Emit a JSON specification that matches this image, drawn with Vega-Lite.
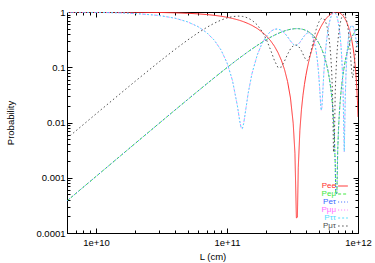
{
"$schema":"https://vega.github.io/schema/vega-lite/v6.json",
"width":291,"height":221,
"autosize":{"type":"none"},
"padding":{"left":67,"top":12,"right":17,"bottom":30},
"background":"#ffffff",
"config":{"font":"Liberation Sans","view":{"stroke":"#000000","strokeWidth":1},
"axis":{"grid":false,"domainColor":"#000000","tickColor":"#000000","labelColor":"#000000","labelFontSize":9.5,"titleFontSize":9.5,"titleFontWeight":"normal","titleColor":"#000000","labelFont":"Liberation Sans","titleFont":"Liberation Sans","tickWidth":1,"domainWidth":1,"labelOverlap":false,"labelFlush":false},
"legend":{"labelFont":"Liberation Sans"}},
"data":{"values":[
{"L":6e9,"Pee":0.9992,"Peμ":0.000381,"Peτ":0.000381,"Pμμ":0.9945,"Pττ":0.9945,"Pμτ":0.005174},
{"L":1e10,"Pee":0.9979,"Peμ":0.001057,"Peτ":0.001057,"Pμμ":0.9846,"Pττ":0.9846,"Pμτ":0.01432},
{"L":1.5e10,"Pee":0.9953,"Peμ":0.002377,"Peτ":0.002377,"Pμμ":0.9656,"Pττ":0.9656,"Pμτ":0.03198},
{"L":2e10,"Pee":0.9916,"Peμ":0.004221,"Peτ":0.004221,"Pμμ":0.9395,"Pττ":0.9395,"Pμτ":0.05627},
{"L":3e10,"Pee":0.9811,"Peμ":0.00946,"Peτ":0.00946,"Pμμ":0.8676,"Pττ":0.8676,"Pμτ":0.1229},
{"L":4e10,"Pee":0.9665,"Peμ":0.01674,"Peτ":0.01674,"Pμμ":0.7736,"Pττ":0.7736,"Pμτ":0.2097},
{"L":5e10,"Pee":0.948,"Peμ":0.02599,"Peτ":0.02599,"Pμμ":0.6634,"Pττ":0.6634,"Pμτ":0.3106},
{"L":6e10,"Pee":0.9257,"Peμ":0.03713,"Peτ":0.03713,"Pμμ":0.5442,"Pττ":0.5442,"Pμτ":0.4187},
{"L":7e10,"Pee":0.8999,"Peμ":0.05008,"Peτ":0.05008,"Pμμ":0.4233,"Pττ":0.4233,"Pμτ":0.5267},
{"L":8e10,"Pee":0.8706,"Peμ":0.06471,"Peτ":0.06471,"Pμμ":0.308,"Pττ":0.308,"Pμτ":0.6273},
{"L":9e10,"Pee":0.8382,"Peμ":0.08092,"Peτ":0.08092,"Pμμ":0.2052,"Pττ":0.2052,"Pμτ":0.7139},
{"L":1e11,"Pee":0.8029,"Peμ":0.09855,"Peτ":0.09855,"Pμμ":0.1204,"Pττ":0.1204,"Pμτ":0.7811},
{"L":1.1e11,"Pee":0.7651,"Peμ":0.1175,"Peτ":0.1175,"Pμμ":0.0578,"Pττ":0.0578,"Pμτ":0.8247},
{"L":1.2e11,"Pee":0.725,"Peμ":0.1375,"Peτ":0.1375,"Pμμ":0.02,"Pττ":0.02,"Pμτ":0.8425},
{"L":1.25e11,"Pee":0.7042,"Peμ":0.1479,"Peτ":0.1479,"Pμμ":0.01066,"Pττ":0.01066,"Pμτ":0.8415},
{"L":1.28e11,"Pee":0.6916,"Peμ":0.1542,"Peτ":0.1542,"Pμμ":0.008096,"Pττ":0.008096,"Pμτ":0.8377},
{"L":1.309e11,"Pee":0.6792,"Peμ":0.1604,"Peτ":0.1604,"Pμμ":0.00773,"Pττ":0.00773,"Pμτ":0.8319},
{"L":1.34e11,"Pee":0.6658,"Peμ":0.1671,"Peτ":0.1671,"Pμμ":0.009596,"Pττ":0.009596,"Pμτ":0.8233},
{"L":1.37e11,"Pee":0.6527,"Peμ":0.1737,"Peτ":0.1737,"Pμμ":0.01355,"Pττ":0.01355,"Pμτ":0.8128},
{"L":1.45e11,"Pee":0.6173,"Peμ":0.1914,"Peτ":0.1914,"Pμμ":0.03374,"Pττ":0.03374,"Pμτ":0.7749},
{"L":1.55e11,"Pee":0.5721,"Peμ":0.2139,"Peτ":0.2139,"Pμμ":0.07636,"Pττ":0.07636,"Pμτ":0.7097},
{"L":1.7e11,"Pee":0.5034,"Peμ":0.2483,"Peτ":0.2483,"Pμμ":0.1661,"Pττ":0.1661,"Pμτ":0.5856},
{"L":1.85e11,"Pee":0.4345,"Peμ":0.2827,"Peτ":0.2827,"Pμμ":0.2704,"Pττ":0.2704,"Pμτ":0.4469},
{"L":2e11,"Pee":0.367,"Peμ":0.3165,"Peτ":0.3165,"Pμμ":0.3683,"Pττ":0.3683,"Pμτ":0.3153},
{"L":2.15e11,"Pee":0.302,"Peμ":0.349,"Peτ":0.349,"Pμμ":0.4444,"Pττ":0.4444,"Pμτ":0.2066},
{"L":2.3e11,"Pee":0.2407,"Peμ":0.3797,"Peτ":0.3797,"Pμμ":0.4874,"Pττ":0.4874,"Pμτ":0.1329},
{"L":2.45e11,"Pee":0.1843,"Peμ":0.4078,"Peτ":0.4078,"Pμμ":0.4935,"Pττ":0.4935,"Pμτ":0.09863},
{"L":2.6e11,"Pee":0.1339,"Peμ":0.433,"Peτ":0.433,"Pμμ":0.4663,"Pττ":0.4663,"Pμτ":0.1007},
{"L":2.75e11,"Pee":0.09055,"Peμ":0.4547,"Peτ":0.4547,"Pμμ":0.4156,"Pττ":0.4156,"Pμτ":0.1297},
{"L":2.9e11,"Pee":0.05497,"Peμ":0.4725,"Peτ":0.4725,"Pμμ":0.3551,"Pττ":0.3551,"Pμτ":0.1724},
{"L":3.05e11,"Pee":0.02785,"Peμ":0.4861,"Peτ":0.4861,"Pμμ":0.2994,"Pττ":0.2994,"Pμτ":0.2145},
{"L":3.2e11,"Pee":0.009706,"Peμ":0.4952,"Peτ":0.4952,"Pμμ":0.261,"Pττ":0.261,"Pμτ":0.2439},
{"L":3.3e11,"Pee":0.002776,"Peμ":0.4986,"Peτ":0.4986,"Pμμ":0.249,"Pττ":0.249,"Pμτ":0.2524},
{"L":3.385e11,"Pee":0.000188,"Peμ":0.4999,"Peτ":0.4999,"Pμμ":0.2482,"Pττ":0.2482,"Pμτ":0.2519},
{"L":3.445e11,"Pee":0.000193,"Peμ":0.4999,"Peτ":0.4999,"Pμμ":0.2529,"Pττ":0.2529,"Pμτ":0.2473},
{"L":3.5e11,"Pee":0.001537,"Peμ":0.4992,"Peτ":0.4992,"Pμμ":0.2606,"Pττ":0.2606,"Pμτ":0.2402},
{"L":3.6e11,"Pee":0.007242,"Peμ":0.4964,"Peτ":0.4964,"Pμμ":0.2819,"Pττ":0.2819,"Pμτ":0.2217},
{"L":3.7e11,"Pee":0.01711,"Peμ":0.4915,"Peτ":0.4915,"Pμμ":0.3102,"Pττ":0.3102,"Pμτ":0.1983},
{"L":3.8e11,"Pee":0.03108,"Peμ":0.4845,"Peτ":0.4845,"Pμμ":0.3419,"Pττ":0.3419,"Pμτ":0.1737},
{"L":3.9e11,"Pee":0.04897,"Peμ":0.4755,"Peτ":0.4755,"Pμμ":0.3727,"Pττ":0.3727,"Pμτ":0.1518},
{"L":4e11,"Pee":0.07076,"Peμ":0.4646,"Peτ":0.4646,"Pμμ":0.3987,"Pττ":0.3987,"Pμτ":0.1367},
{"L":4.1e11,"Pee":0.0961,"Peμ":0.452,"Peτ":0.452,"Pμμ":0.4159,"Pττ":0.4159,"Pμτ":0.1322},
{"L":4.2e11,"Pee":0.1249,"Peμ":0.4376,"Peτ":0.4376,"Pμμ":0.4213,"Pττ":0.4213,"Pμτ":0.1411},
{"L":4.3e11,"Pee":0.1569,"Peμ":0.4216,"Peτ":0.4216,"Pμμ":0.4131,"Pττ":0.4131,"Pμτ":0.1654},
{"L":4.4e11,"Pee":0.1917,"Peμ":0.4042,"Peτ":0.4042,"Pμμ":0.3903,"Pττ":0.3903,"Pμτ":0.2055},
{"L":4.5e11,"Pee":0.2293,"Peμ":0.3854,"Peτ":0.3854,"Pμμ":0.3539,"Pττ":0.3539,"Pμτ":0.2608},
{"L":4.6e11,"Pee":0.269,"Peμ":0.3655,"Peτ":0.3655,"Pμμ":0.3057,"Pττ":0.3057,"Pμτ":0.3288},
{"L":4.7e11,"Pee":0.3106,"Peμ":0.3447,"Peτ":0.3447,"Pμμ":0.2495,"Pττ":0.2495,"Pμτ":0.4058},
{"L":4.8e11,"Pee":0.3539,"Peμ":0.3231,"Peτ":0.3231,"Pμμ":0.1895,"Pττ":0.1895,"Pμτ":0.4874},
{"L":4.9e11,"Pee":0.3985,"Peμ":0.3007,"Peτ":0.3007,"Pμμ":0.1312,"Pττ":0.1312,"Pμτ":0.5681},
{"L":5e11,"Pee":0.444,"Peμ":0.278,"Peτ":0.278,"Pμμ":0.07991,"Pττ":0.07991,"Pμτ":0.6421},
{"L":5.1e11,"Pee":0.4899,"Peμ":0.2551,"Peτ":0.2551,"Pμμ":0.041,"Pττ":0.041,"Pμτ":0.7039},
{"L":5.2e11,"Pee":0.536,"Peμ":0.232,"Peτ":0.232,"Pμμ":0.01929,"Pττ":0.01929,"Pμτ":0.7487},
{"L":5.236e11,"Pee":0.5523,"Peμ":0.2238,"Peτ":0.2238,"Pμμ":0.0165,"Pττ":0.0165,"Pμτ":0.7597},
{"L":5.3e11,"Pee":0.5814,"Peμ":0.2093,"Peτ":0.2093,"Pμμ":0.0186,"Pττ":0.0186,"Pμτ":0.7721},
{"L":5.4e11,"Pee":0.6265,"Peμ":0.1868,"Peτ":0.1868,"Pμμ":0.04114,"Pττ":0.04114,"Pμτ":0.7721},
{"L":5.5e11,"Pee":0.6703,"Peμ":0.1649,"Peτ":0.1649,"Pμμ":0.08768,"Pττ":0.08768,"Pμτ":0.7475},
{"L":5.6e11,"Pee":0.7128,"Peμ":0.1436,"Peτ":0.1436,"Pμμ":0.1572,"Pττ":0.1572,"Pμτ":0.6993},
{"L":5.7e11,"Pee":0.7538,"Peμ":0.1231,"Peτ":0.1231,"Pμμ":0.2468,"Pττ":0.2468,"Pμτ":0.6301},
{"L":5.8e11,"Pee":0.7919,"Peμ":0.104,"Peτ":0.104,"Pμμ":0.3521,"Pττ":0.3521,"Pμτ":0.5439},
{"L":5.9e11,"Pee":0.8281,"Peμ":0.08595,"Peτ":0.08595,"Pμμ":0.4674,"Pττ":0.4674,"Pμτ":0.4467},
{"L":6e11,"Pee":0.8614,"Peμ":0.06932,"Peτ":0.06932,"Pμμ":0.5859,"Pττ":0.5859,"Pμτ":0.3448},
{"L":6.1e11,"Pee":0.8915,"Peμ":0.05424,"Peτ":0.05424,"Pμμ":0.7003,"Pττ":0.7003,"Pμτ":0.2454},
{"L":6.2e11,"Pee":0.9185,"Peμ":0.04073,"Peτ":0.04073,"Pμμ":0.8036,"Pττ":0.8036,"Pμτ":0.1556},
{"L":6.3e11,"Pee":0.9419,"Peμ":0.02907,"Peτ":0.02907,"Pμμ":0.8893,"Pττ":0.8893,"Pμτ":0.08169},
{"L":6.4e11,"Pee":0.9614,"Peμ":0.01931,"Peτ":0.01931,"Pμμ":0.9512,"Pττ":0.9512,"Pμτ":0.02946},
{"L":6.5e11,"Pee":0.9771,"Peμ":0.01144,"Peτ":0.01144,"Pμμ":0.9857,"Pττ":0.9857,"Pμτ":0.00291},
{"L":6.6e11,"Pee":0.9889,"Peμ":0.00555,"Peτ":0.00555,"Pμμ":0.9901,"Pττ":0.9901,"Pμτ":0.00434},
{"L":6.7e11,"Pee":0.9964,"Peμ":0.00178,"Peτ":0.00178,"Pμμ":0.9641,"Pττ":0.9641,"Pμτ":0.03414},
{"L":6.76e11,"Pee":0.999,"Peμ":0.000512,"Peτ":0.000512,"Pμμ":0.9344,"Pττ":0.9344,"Pμτ":0.06507},
{"L":6.9e11,"Pee":0.999,"Peμ":0.00052,"Peτ":0.00052,"Pμμ":0.8288,"Pττ":0.8288,"Pμτ":0.1707},
{"L":7e11,"Pee":0.9939,"Peμ":0.00307,"Peτ":0.00307,"Pμμ":0.7281,"Pττ":0.7281,"Pμτ":0.2688},
{"L":7.1e11,"Pee":0.9846,"Peμ":0.0077,"Peτ":0.0077,"Pμμ":0.6135,"Pττ":0.6135,"Pμτ":0.3788},
{"L":7.2e11,"Pee":0.9713,"Peμ":0.01437,"Peτ":0.01437,"Pμμ":0.4922,"Pττ":0.4922,"Pμτ":0.4934},
{"L":7.3e11,"Pee":0.9539,"Peμ":0.02305,"Peτ":0.02305,"Pμμ":0.3718,"Pττ":0.3718,"Pμτ":0.6052},
{"L":7.4e11,"Pee":0.9327,"Peμ":0.03364,"Peτ":0.03364,"Pμμ":0.2597,"Pττ":0.2597,"Pμτ":0.7067},
{"L":7.5e11,"Pee":0.9079,"Peμ":0.04607,"Peτ":0.04607,"Pμμ":0.1624,"Pττ":0.1624,"Pμτ":0.7915},
{"L":7.6e11,"Pee":0.8796,"Peμ":0.06021,"Peτ":0.06021,"Pμμ":0.08543,"Pττ":0.08543,"Pμτ":0.8544},
{"L":7.7e11,"Pee":0.8481,"Peμ":0.07596,"Peτ":0.07596,"Pμμ":0.03264,"Pττ":0.03264,"Pμτ":0.8914},
{"L":7.8e11,"Pee":0.8136,"Peμ":0.0932,"Peτ":0.0932,"Pμμ":0.00619,"Pττ":0.00619,"Pμτ":0.9006},
{"L":7.854e11,"Pee":0.7939,"Peμ":0.1031,"Peτ":0.1031,"Pμμ":0.00297,"Pττ":0.00297,"Pμτ":0.894},
{"L":7.9e11,"Pee":0.7765,"Peμ":0.1118,"Peτ":0.1118,"Pμμ":0.00622,"Pττ":0.00622,"Pμτ":0.882},
{"L":8e11,"Pee":0.7371,"Peμ":0.1315,"Peτ":0.1315,"Pμμ":0.0311,"Pττ":0.0311,"Pμτ":0.8374},
{"L":8.1e11,"Pee":0.6956,"Peμ":0.1522,"Peτ":0.1522,"Pμμ":0.07749,"Pττ":0.07749,"Pμτ":0.7703},
{"L":8.2e11,"Pee":0.6525,"Peμ":0.1737,"Peτ":0.1737,"Pμμ":0.1407,"Pττ":0.1407,"Pμτ":0.6856},
{"L":8.3e11,"Pee":0.6082,"Peμ":0.1959,"Peτ":0.1959,"Pμμ":0.215,"Pττ":0.215,"Pμτ":0.5891},
{"L":8.4e11,"Pee":0.5628,"Peμ":0.2186,"Peτ":0.2186,"Pμμ":0.2941,"Pττ":0.2941,"Pμτ":0.4873},
{"L":8.5e11,"Pee":0.517,"Peμ":0.2415,"Peτ":0.2415,"Pμμ":0.3719,"Pττ":0.3719,"Pμτ":0.3866},
{"L":8.6e11,"Pee":0.471,"Peμ":0.2645,"Peτ":0.2645,"Pμμ":0.4425,"Pττ":0.4425,"Pμτ":0.293},
{"L":8.7e11,"Pee":0.4253,"Peμ":0.2874,"Peτ":0.2874,"Pμμ":0.501,"Pττ":0.501,"Pμτ":0.2117},
{"L":8.8e11,"Pee":0.3802,"Peμ":0.3099,"Peτ":0.3099,"Pμμ":0.5435,"Pττ":0.5435,"Pμτ":0.1466},
{"L":8.9e11,"Pee":0.3361,"Peμ":0.332,"Peτ":0.332,"Pμμ":0.568,"Pττ":0.568,"Pμτ":0.09999},
{"L":9e11,"Pee":0.2934,"Peμ":0.3533,"Peτ":0.3533,"Pμμ":0.5737,"Pττ":0.5737,"Pμτ":0.07297},
{"L":9.1e11,"Pee":0.2524,"Peμ":0.3738,"Peτ":0.3738,"Pμμ":0.5615,"Pττ":0.5615,"Pμτ":0.06476},
{"L":9.2e11,"Pee":0.2136,"Peμ":0.3932,"Peτ":0.3932,"Pμμ":0.5336,"Pττ":0.5336,"Pμτ":0.07322},
{"L":9.3e11,"Pee":0.1771,"Peμ":0.4114,"Peτ":0.4114,"Pμμ":0.4934,"Pττ":0.4934,"Pμτ":0.09513},
{"L":9.4e11,"Pee":0.1434,"Peμ":0.4283,"Peτ":0.4283,"Pμμ":0.4454,"Pττ":0.4454,"Pμτ":0.1263},
{"L":9.5e11,"Pee":0.1127,"Peμ":0.4436,"Peτ":0.4436,"Pμμ":0.3941,"Pττ":0.3941,"Pμτ":0.1623},
{"L":9.6e11,"Pee":0.08528,"Peμ":0.4574,"Peτ":0.4574,"Pμμ":0.3441,"Pττ":0.3441,"Pμτ":0.1985},
{"L":9.7e11,"Pee":0.0614,"Peμ":0.4693,"Peτ":0.4693,"Pμμ":0.2998,"Pττ":0.2998,"Pμτ":0.2309},
{"L":9.8e11,"Pee":0.0412,"Peμ":0.4794,"Peτ":0.4794,"Pμμ":0.2646,"Pττ":0.2646,"Pμτ":0.256},
{"L":9.9e11,"Pee":0.02488,"Peμ":0.4876,"Peτ":0.4876,"Pμμ":0.2407,"Pττ":0.2407,"Pμτ":0.2717},
{"L":1e12,"Pee":0.01258,"Peμ":0.4937,"Peτ":0.4937,"Pμμ":0.2294,"Pττ":0.2294,"Pμτ":0.2769}
]},
"transform":[{"fold":["Pee","Peμ","Peτ","Pμμ","Pττ","Pμτ"],"as":["series","P"]}],
"layer":[
{"mark":{"type":"line","clip":true,"strokeWidth":1},
"encoding":{
"x":{"field":"L","type":"quantitative","scale":{"type":"log","domain":[6e9,1e12]},
"axis":{"orient":"bottom","values":[6e9,7e9,8e9,9e9,1e10,2e10,3e10,4e10,5e10,6e10,7e10,8e10,9e10,1e11,2e11,3e11,4e11,5e11,6e11,7e11,8e11,9e11,1e12],
"labelExpr":"indexof([1e10,1e11,1e12], datum.value) >= 0 ? format(datum.value, '.0e') : ''",
"tickSize":{"condition":{"test":"indexof([1e10,1e11,1e12], datum.value) >= 0","value":-5},"value":-3},
"labelPadding":9,"title":"L (cm)","titlePadding":3}},
"y":{"field":"P","type":"quantitative","scale":{"type":"log","domain":[0.0001,1]},
"axis":{"orient":"left","values":[0.0001,0.0002,0.0003,0.0004,0.0005,0.0006,0.0007,0.0008,0.0009,0.001,0.002,0.003,0.004,0.005,0.006,0.007,0.008,0.009,0.01,0.02,0.03,0.04,0.05,0.06,0.07,0.08,0.09,0.1,0.2,0.3,0.4,0.5,0.6,0.7,0.8,0.9,1],
"labelExpr":"indexof([0.0001,0.001,0.01,0.1,1], datum.value) >= 0 ? format(datum.value, '~g') : ''",
"tickSize":{"condition":{"test":"indexof([0.0001,0.001,0.01,0.1,1], datum.value) >= 0","value":-5},"value":-3},
"labelPadding":7,"title":"Probability","titlePadding":20}},
"color":{"field":"series","type":"nominal","scale":{"domain":["Pee","Peμ","Peτ","Pμμ","Pττ","Pμτ"],"range":["#ff3030","#40e840","#3868ff","#ff70ff","#50dcff","#505050"]},
"legend":{"title":null,"orient":"none","legendX":272,"legendY":170,"padding":0,"rowPadding":0,"symbolType":"M-1.5,0H1.5","symbolSize":42,"symbolStrokeWidth":1,"labelFontSize":8,"labelAlign":"right","labelOffset":-11,"labelColor":{"expr":"scale('color', datum.value)"}}},
"strokeDash":{"field":"series","type":"nominal","scale":{"domain":["Pee","Peμ","Peτ","Pμμ","Pττ","Pμτ"],"range":[[1,0],[3,2],[1,2],[1,2],[2,2],[1.5,2.5]]}}
}},
{"mark":{"type":"point","opacity":0},
"encoding":{
"x":{"field":"L","type":"quantitative","scale":{"type":"log","domain":[6e9,1e12]},
"axis":{"orient":"top","values":[6e9,7e9,8e9,9e9,1e10,2e10,3e10,4e10,5e10,6e10,7e10,8e10,9e10,1e11,2e11,3e11,4e11,5e11,6e11,7e11,8e11,9e11,1e12],"labels":false,"title":null,
"tickSize":{"condition":{"test":"indexof([1e10,1e11,1e12], datum.value) >= 0","value":-5},"value":-3}}},
"y":{"field":"P","type":"quantitative","scale":{"type":"log","domain":[0.0001,1]},
"axis":{"orient":"right","values":[0.0001,0.0002,0.0003,0.0004,0.0005,0.0006,0.0007,0.0008,0.0009,0.001,0.002,0.003,0.004,0.005,0.006,0.007,0.008,0.009,0.01,0.02,0.03,0.04,0.05,0.06,0.07,0.08,0.09,0.1,0.2,0.3,0.4,0.5,0.6,0.7,0.8,0.9,1],"labels":false,"title":null,
"tickSize":{"condition":{"test":"indexof([0.0001,0.001,0.01,0.1,1], datum.value) >= 0","value":-5},"value":-3}}}
}}
],
"resolve":{"axis":{"x":"independent","y":"independent"}}
}
